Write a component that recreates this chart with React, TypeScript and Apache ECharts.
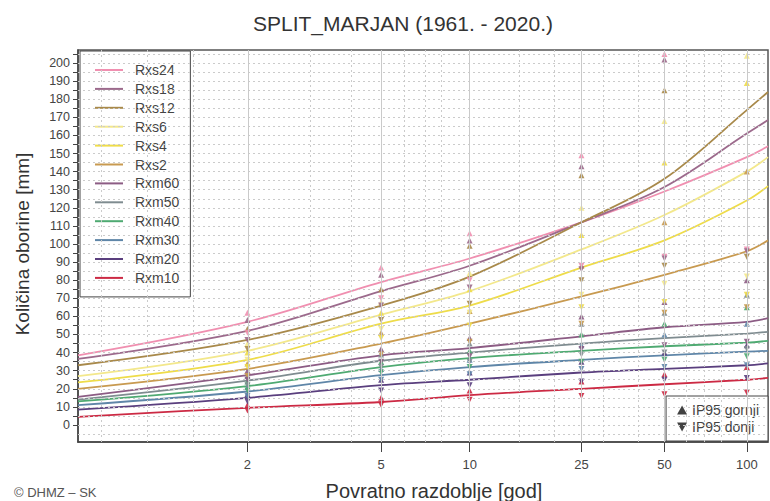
import React, { useEffect, useRef } from "react";
import * as echarts from "echarts";

const FONT = "Liberation Sans, Arial, sans-serif";
const TITLE = "SPLIT_MARJAN (1961. - 2020.)";
const X_NAME = "Povratno razdoblje [god]";
const Y_NAME = "Količina oborine [mm]";
const CREDIT = "© DHMZ – SK";

const SERIES_NAMES = ["Rxs24", "Rxs18", "Rxs12", "Rxs6", "Rxs4", "Rxs2", "Rxm60", "Rxm50", "Rxm40", "Rxm30", "Rxm20", "Rxm10"];
const SERIES_COLORS = ["#f08fb0", "#9c6a8c", "#a8894a", "#f3e88c", "#eedc4a", "#c89a50", "#8c5c84", "#7f8c90", "#4faa72", "#5f86a8", "#5a3f7e", "#cc2a44"];

const RETURN_PERIODS = [2, 5, 10, 25, 50, 100];
const V_GRID_PERIODS = [1.1, 1.25, 1.5, 3, 4, 6, 7, 8, 15, 20, 30, 40, 60, 70, 80];

const X_MIN = -1.07;
const X_MAX = 4.78;
const Y_MIN = -9.4;
const Y_MAX = 207.2;

const Y_LABEL_VALUES = [0, 10, 20, 30, 40, 50, 60, 70, 80, 90, 100, 110, 120, 130, 140, 150, 160, 170, 180, 190, 200];
const Y_TICK_VALUES = [0, 5, 10, 15, 20, 25, 30, 35, 40, 45, 50, 55, 60, 65, 70, 75, 80, 85, 90, 95, 100, 105, 110, 115, 120, 125, 130, 135, 140, 145, 150, 155, 160, 165, 170, 175, 180, 185, 190, 195, 200, 205];
const H_GRID_VALUES = [-5, ...Y_TICK_VALUES];

// curve values at: left edge, T = 2, 5, 10, 25, 50, 100, right edge
const rxs24 = [38.5, 57, 79, 92, 112, 129, 148, 154];
const rxs18 = [36.5, 52, 74, 88, 112, 131.5, 161, 168.5];
const rxs12 = [33, 47, 66, 82, 112, 136, 174, 184];
const rxs6 = [27, 41, 61, 74, 97, 116, 140, 148];
const rxs4 = [23.5, 36, 56, 66, 87, 102, 124, 132];
const rxs2 = [20, 31, 45, 56, 71, 83, 96, 102];
const rxm60 = [15.5, 27.5, 38.5, 42.5, 49, 54, 57, 59];
const rxm50 = [14, 24.5, 35.5, 40, 45, 48, 50.5, 51.5];
const rxm40 = [13, 21.5, 32, 37, 41, 43.5, 45.5, 46.5];
const rxm30 = [11, 18.5, 27.5, 32, 36, 38.5, 40.5, 41];
const rxm20 = [8.5, 15, 22, 25, 29, 31, 33, 34];
const rxm10 = [4.5, 9.5, 12.7, 16.5, 20, 22.5, 25, 26];
const CURVES = [rxs24, rxs18, rxs12, rxs6, rxs4, rxs2, rxm60, rxm50, rxm40, rxm30, rxm20, rxm10];

// IP95 upper (gornji) and lower (donji) bounds at T = 2, 5, 10, 25, 50, 100
const UPPER = [
  [62, 87, 106, 149, 205, 260],
  [58, 83, 102, 143, 202, 275],
  [53, 75, 99, 138, 185, 280],
  [45, 68, 84, 120, 168, 204],
  [40, 62, 75, 105, 145, 189],
  [34, 51, 63, 88, 112, 140],
  [30, 42, 48, 60, 68, 80],
  [27, 39, 45, 56, 62, 72],
  [24, 35, 41, 50, 56, 65],
  [21, 31, 36, 44, 50, 56],
  [17, 25, 29, 35, 40, 44],
  [11, 15, 19, 24, 28, 32],
];
const LOWER = [
  [51, 70, 80, 88, 93, 97],
  [47, 66, 76, 86, 92, 96],
  [42, 58, 67, 80, 88, 93],
  [36, 53, 62, 72, 78, 82],
  [32, 48, 55, 65, 68, 72],
  [27, 39, 46, 56, 62, 65],
  [25, 35, 38, 42, 44, 46],
  [22, 32, 35, 39, 40, 42],
  [19, 29, 32, 35, 36, 38],
  [16, 25, 28, 31, 32, 33],
  [13, 19, 22, 24, 25, 26],
  [8, 11, 14, 16, 17, 18],
];

const gumbel = (T: number) => -Math.log(-Math.log(1 - 1 / T));

function buildOption() {
  const curveX = [X_MIN, ...RETURN_PERIODS.map(gumbel), X_MAX];
  const dotted = { type: [2, 3] as any, color: "#cbcbcb", width: 1 };

  const gridSeries: any = {
    type: "line",
    name: "grid",
    data: [[X_MIN, Y_MIN]],
    symbol: "none",
    lineStyle: { opacity: 0 },
    silent: true,
    z: 1,
    markLine: {
      symbol: ["none", "none"],
      silent: true,
      label: { show: false },
      animation: false,
      data: [
        ...H_GRID_VALUES.map((v) => ({ yAxis: v, lineStyle: dotted })),
        ...V_GRID_PERIODS.map((t) => ({ xAxis: gumbel(t), lineStyle: dotted })),
        ...RETURN_PERIODS.map((t) => ({ xAxis: gumbel(t), lineStyle: { type: "solid", color: "#cacaca", width: 1 } })),
      ],
    },
  };

  const lineSeries = SERIES_NAMES.map((name, i) => ({
    type: "line",
    name,
    data: curveX.map((x, j) => [x, CURVES[i][j]]),
    smooth: 0.35,
    symbol: "none",
    showSymbol: false,
    clip: true,
    lineStyle: { width: 1.8, color: SERIES_COLORS[i] },
    itemStyle: { color: SERIES_COLORS[i] },
    z: 3,
    silent: true,
  }));

  const upperSeries = SERIES_NAMES.map((name, i) => ({
    type: "scatter",
    name: name + " IP95 gornji",
    data: RETURN_PERIODS.map((t, j) => [gumbel(t), UPPER[i][j]]),
    symbol: "triangle",
    symbolSize: 6,
    clip: true,
    itemStyle: { color: SERIES_COLORS[i], opacity: 0.9 },
    z: 4,
    silent: true,
  }));
  const lowerSeries = SERIES_NAMES.map((name, i) => ({
    type: "scatter",
    name: name + " IP95 donji",
    data: RETURN_PERIODS.map((t, j) => [gumbel(t), LOWER[i][j]]),
    symbol: "triangle",
    symbolRotate: 180,
    symbolSize: 6,
    clip: true,
    itemStyle: { color: SERIES_COLORS[i], opacity: 0.9 },
    z: 4,
    silent: true,
  }));

  const dummy = [
    { type: "scatter", name: "IP95 gornji", data: [], symbol: "triangle", itemStyle: { color: "#111" } },
    { type: "scatter", name: "IP95 donji", data: [], symbol: "triangle", itemStyle: { color: "#111" } },
  ];

  return {
    animation: false,
    backgroundColor: "#ffffff",
    textStyle: { fontFamily: FONT },
    title: {
      text: TITLE,
      left: 398,
      top: 8,
      textAlign: "center",
      textStyle: { fontFamily: FONT, fontSize: 21, fontWeight: "normal", color: "#333" },
    },
    grid: {
      left: 78,
      right: 2,
      top: 50,
      bottom: 59,
      show: true,
      borderColor: "#555",
      borderWidth: 1.5,
      backgroundColor: "transparent",
    },
    legend: [
      {
        orient: "vertical",
        left: 80,
        top: 51,
        data: SERIES_NAMES,
        icon: "rect",
        itemWidth: 28,
        itemHeight: 2,
        itemGap: 2.9,
        selectedMode: false,
        textStyle: { fontFamily: FONT, fontSize: 14, color: "#444", lineHeight: 16, padding: [0, 0, 0, 7] },
        backgroundColor: "#ffffff",
        borderColor: "#444",
        borderWidth: 1,
        borderRadius: 0,
        padding: [11, 11, 11, 15],
      },
      {
        orient: "vertical",
        right: 2,
        bottom: 60,
        data: [
          { name: "IP95 gornji", icon: "triangle" },
          { name: "IP95 donji", icon: "path://M0,0L10,0L5,9Z" },
        ],
        itemWidth: 10,
        itemHeight: 9,
        itemGap: 3,
        selectedMode: false,
        textStyle: { fontFamily: FONT, fontSize: 14, color: "#444" },
        backgroundColor: "#ffffff",
        borderColor: "#444",
        borderWidth: 1,
        borderRadius: 0,
        padding: [7, 9, 7, 11],
      },
    ],
    xAxis: {
      type: "value",
      min: X_MIN,
      max: X_MAX,
      axisLine: { show: true, onZero: false, lineStyle: { color: "#444", width: 1.5 } },
      axisTick: { show: true, length: 10, customValues: RETURN_PERIODS.map(gumbel), lineStyle: { color: "#444" } },
      axisLabel: {
        customValues: RETURN_PERIODS.map(gumbel),
        margin: 16,
        fontSize: 13,
        color: "#444",
        fontFamily: FONT,
        formatter: (v: number) => {
          let best = RETURN_PERIODS[0];
          for (const t of RETURN_PERIODS) if (Math.abs(gumbel(t) - v) < Math.abs(gumbel(best) - v)) best = t;
          return String(best);
        },
      },
      splitLine: { show: false },
    },
    yAxis: {
      type: "value",
      min: Y_MIN,
      max: Y_MAX,
      axisLine: { show: true, onZero: false, lineStyle: { color: "#444", width: 1.5 } },
      axisTick: { show: true, length: 5, customValues: Y_TICK_VALUES, lineStyle: { color: "#444" } },
      axisLabel: { customValues: Y_LABEL_VALUES, margin: 8, fontSize: 12.5, color: "#444", fontFamily: FONT },
      splitLine: { show: false },
    },
    graphic: [
      {
        type: "text",
        x: 434,
        y: 491,
        style: { text: X_NAME, fontSize: 20, fontFamily: FONT, fill: "#333", textAlign: "center", textVerticalAlign: "middle" },
      },
      {
        type: "text",
        x: 22,
        y: 244,
        rotation: Math.PI / 2,
        style: { text: Y_NAME, fontSize: 19, fontFamily: FONT, fill: "#333", textAlign: "center", textVerticalAlign: "middle" },
      },
      {
        type: "text",
        x: 14,
        y: 492,
        style: { text: CREDIT, fontSize: 13, fontFamily: FONT, fill: "#555", textAlign: "left", textVerticalAlign: "middle" },
      },
    ],
    series: [gridSeries, ...lineSeries, ...upperSeries, ...lowerSeries, ...dummy],
  };
}

export default function App() {
  const ref = useRef<HTMLDivElement>(null);
  useEffect(() => {
    if (!ref.current) return;
    const chart = echarts.init(ref.current, null, { renderer: "svg" });
    chart.setOption(buildOption() as any);
    return () => chart.dispose();
  }, []);
  return (
    <div
      ref={ref}
      style={{ position: "absolute", left: 0, top: 0, width: 770, height: 501, background: "#fff" }}
    />
  );
}
